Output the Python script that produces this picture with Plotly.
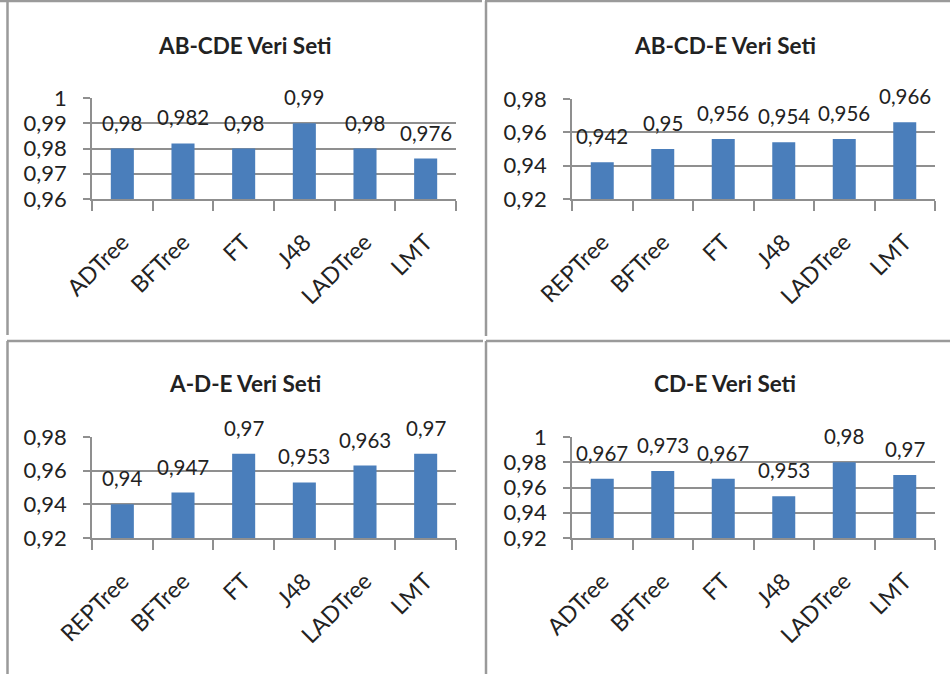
import plotly.graph_objects as go

# ---- data -------------------------------------------------------------
cats_ad = ["ADTree", "BFTree", "FT", "J48", "LADTree", "LMT"]
cats_rep = ["REPTree", "BFTree", "FT", "J48", "LADTree", "LMT"]

titles = ["AB-CDE Veri Seti", "AB-CD-E Veri Seti", "A-D-E Veri Seti", "CD-E Veri Seti"]

vals_ab_cde = [0.98, 0.982, 0.98, 0.99, 0.98, 0.976]
vals_ab_cd_e = [0.942, 0.95, 0.956, 0.954, 0.956, 0.966]
vals_a_d_e = [0.94, 0.947, 0.97, 0.953, 0.963, 0.97]
vals_cd_e = [0.967, 0.973, 0.967, 0.953, 0.98, 0.97]

y_ranges = [(0.96, 1.0), (0.92, 0.98), (0.92, 0.98), (0.92, 1.0)]
y_steps = [0.01, 0.02, 0.02, 0.02]

# ---- layout geometry (pixels) ----------------------------------------
W, H = 950, 674
FONT = "Lato, 'Open Sans', sans-serif"
TXT = "#222222"
GRID = "#8f8f8f"
BAR = "#4a7ebb"

# plot-area boxes: (x0, x1, ytop, ybottom)
boxes = [
    (92, 456, 98, 199),
    (572, 935, 99, 199),
    (92, 456, 437, 538),
    (572, 935, 437, 538),
]
title_pos = [(245, 45), (725, 45), (245, 383), (725, 383)]


def px(x):
    return x / W


def py(y):
    return 1 - y / H


panels = [
    (cats_ad, vals_ab_cde),
    (cats_rep, vals_ab_cd_e),
    (cats_rep, vals_a_d_e),
    (cats_ad, vals_cd_e),
]

fig = go.Figure()
annotations = []
layout_axes = {}

for i, ((cats, vals), (x0, x1, yt, yb), (lo, hi), step) in enumerate(
    zip(panels, boxes, y_ranges, y_steps)
):
    n = "" if i == 0 else str(i + 1)
    fig.add_trace(
        go.Bar(
            x=cats,
            y=vals,
            xaxis="x" + n,
            yaxis="y" + n,
            marker=dict(color=BAR, line=dict(width=0)),
            showlegend=False,
            hoverinfo="x+y",
        )
    )
    layout_axes["xaxis" + n] = dict(
        domain=[px(x0), px(x1)],
        anchor="y" + n,
        type="category",
        automargin=False,
        showline=True,
        linecolor=GRID,
        linewidth=1.5,
        ticks="outside",
        tickson="boundaries",
        ticklen=10,
        tickwidth=1.5,
        tickcolor=GRID,
        tickangle=-45,
        ticklabelstandoff=19,
        tickfont=dict(family=FONT, size=23, color=TXT),
        showgrid=False,
        fixedrange=True,
    )
    layout_axes["yaxis" + n] = dict(
        domain=[py(yb), py(yt)],
        anchor="x" + n,
        automargin=False,
        range=[lo, hi],
        dtick=step,
        tick0=lo,
        showline=True,
        linecolor=GRID,
        linewidth=1.5,
        ticks="outside",
        ticklen=7,
        tickwidth=1.5,
        tickcolor=GRID,
        ticklabelstandoff=12,
        showgrid=True,
        gridcolor=GRID,
        gridwidth=1.5,
        zeroline=False,
        tickfont=dict(family=FONT, size=22, color=TXT),
        fixedrange=True,
    )
    # value labels above each bar
    for c, v in zip(cats, vals):
        label = f"{v:.3f}".rstrip("0").replace(".", ",")
        annotations.append(
            dict(
                x=c,
                y=v,
                xref="x" + n,
                yref="y" + n,
                text=label,
                showarrow=False,
                yanchor="middle",
                yshift=26,
                font=dict(family=FONT, size=20.5, color=TXT),
            )
        )
    # panel title
    tx, ty = title_pos[i]
    annotations.append(
        dict(
            x=px(tx),
            y=py(ty),
            xref="paper",
            yref="paper",
            text="<b>" + titles[i] + "</b>",
            showarrow=False,
            xanchor="center",
            yanchor="middle",
            font=dict(family=FONT, size=22.5, color=TXT),
        )
    )

# panel frames (top and left edges of each chart box)
frame_segments = [
    (0, 1, 482, 1), (7.5, 1, 7.5, 335),
    (485, 1, 950, 1), (486, 1, 486, 336),
    (7, 341, 483, 341), (7.5, 341, 7.5, 674),
    (486, 341, 950, 341), (486, 341, 486, 674),
]
shapes = [
    dict(
        type="line",
        xref="paper",
        yref="paper",
        x0=px(a), y0=py(b), x1=px(c), y1=py(d),
        line=dict(color="#9a9a9a", width=2.5),
    )
    for a, b, c, d in frame_segments
]

fig.update_layout(
    width=W,
    height=H,
    autosize=False,
    margin=dict(l=0, r=0, t=0, b=0, pad=0, autoexpand=False),
    paper_bgcolor="white",
    plot_bgcolor="white",
    bargap=0.62,
    separators=", ",
    annotations=annotations,
    shapes=shapes,
    **layout_axes,
)

fig.write_html("out.html", config={"displayModeBar": False})
